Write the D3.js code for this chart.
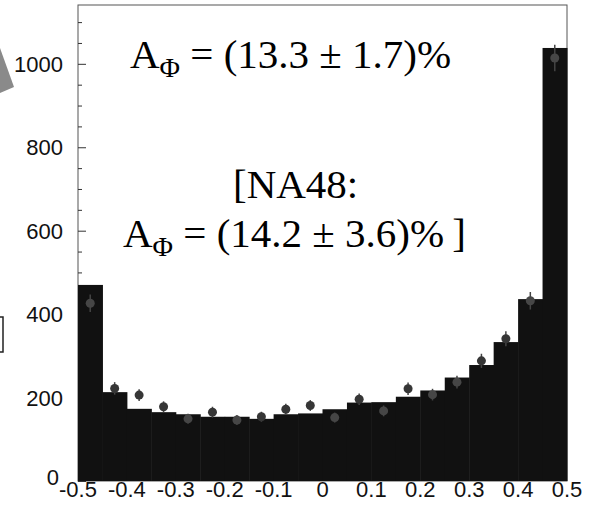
<!DOCTYPE html>
<html>
<head>
<meta charset="utf-8">
<script src="https://cdn.jsdelivr.net/npm/d3@7"></script>
<style>
  body { margin: 0; background: #fff; }
  svg { display: block; }
</style>
</head>
<body>
<script>
var svgWidth = 599;
var svgHeight = 511;

// bin lower edges (width 0.05)
var binEdges = [-0.5, -0.45, -0.4, -0.35, -0.3, -0.25, -0.2, -0.15, -0.1, -0.05,
                0, 0.05, 0.1, 0.15, 0.2, 0.25, 0.3, 0.35, 0.4, 0.45];
var binWidth = 0.05;
// histogram (Monte Carlo) counts
var mcCounts = [470, 213, 173, 165, 160, 154, 154, 149, 160, 162,
                172, 188, 189, 202, 217, 248, 278, 333, 436, 1038];
// data points and their errors
var dataCounts = [426, 222, 206, 178, 149, 165, 146, 154, 172, 181,
                  152, 196, 168, 221, 207, 237, 288, 341, 432, 1014];
var dataErrors = [21, 15, 14, 13, 12, 13, 12, 12, 13, 13,
                  12, 14, 13, 15, 14, 15, 17, 18, 21, 32];
var xTicks = [-0.5, -0.4, -0.3, -0.2, -0.1, 0, 0.1, 0.2, 0.3, 0.4, 0.5];
var xTickLabels = ["-0.5", "-0.4", "-0.3", "-0.2", "-0.1", "0", "0.1", "0.2", "0.3", "0.4", "0.5"];
var yTicks = [0, 200, 400, 600, 800, 1000];

var plot = { left: 78, right: 567, top: 5, bottom: 481 };

var svg = d3.select('body').append('svg')
  .attr('width', svgWidth)
  .attr('height', svgHeight);

var xScale = d3.scaleLinear()
  .domain([-0.5, 0.5])
  .range([plot.left, plot.right]);

var yScale = d3.scaleLinear()
  .domain([0, 1141])
  .range([plot.bottom, plot.top]);

// slide leftovers at the left edge
svg.append("path")
  .attr("d", "M0,48 L14,87 L0,93 Z")
  .attr("fill", "#8a8a8a");
svg.append("path")
  .attr("d", "M0,317 L3,317 L3,352 L0,352")
  .attr("fill", "none")
  .attr("stroke", "#222")
  .attr("stroke-width", 1.5);

// frame
svg.append("rect")
  .attr("x", plot.left)
  .attr("y", plot.top)
  .attr("width", plot.right - plot.left)
  .attr("height", plot.bottom - plot.top)
  .attr("fill", "none")
  .attr("stroke", "#555")
  .attr("stroke-width", 1);

// y axis ticks (inward)
var yAxis = d3.axisRight(yScale)
  .tickValues(d3.range(0, 1141, 50))
  .tickSize(0)
  .tickFormat("");
var yAxisG = svg.append("g")
  .attr("transform", "translate(" + plot.left + ",0)")
  .call(yAxis);
yAxisG.select(".domain").remove();
yAxisG.selectAll(".tick line")
  .attr("x2", function(d) { return d % 200 === 0 ? 8 : 4; })
  .attr("stroke", "#333");

// y tick labels
svg.append("g").selectAll("text")
  .data(yTicks)
  .enter()
  .append("text")
  .attr("x", function(d) { return d === 0 ? plot.left - 19 : plot.left - 15; })
  .attr("y", function(d) { return d === 0 ? yScale(d) + 4 : yScale(d) + 8; })
  .attr("text-anchor", "end")
  .attr("font-family", "'Liberation Sans', Arial, sans-serif")
  .attr("font-size", 22)
  .attr("fill", "#111")
  .text(function(d) { return d; });

// histogram bars
svg.append("g").selectAll("rect")
  .data(mcCounts)
  .enter()
  .append("rect")
  .attr("x", function(d, i) { return xScale(binEdges[i]); })
  .attr("y", function(d) { return yScale(d); })
  .attr("width", function(d, i) { return xScale(binEdges[i] + binWidth) - xScale(binEdges[i]) + 0.5; })
  .attr("height", function(d) { return yScale(0) - yScale(d); })
  .attr("fill", "#111");

// data points with error bars
var pts = svg.append("g").selectAll("g")
  .data(dataCounts)
  .enter()
  .append("g");
pts.append("line")
  .attr("x1", function(d, i) { return xScale(binEdges[i] + binWidth / 2); })
  .attr("x2", function(d, i) { return xScale(binEdges[i] + binWidth / 2); })
  .attr("y1", function(d, i) { return yScale(d - dataErrors[i]); })
  .attr("y2", function(d, i) { return yScale(d + dataErrors[i]); })
  .attr("stroke", "#444")
  .attr("stroke-width", 1.5);
pts.append("circle")
  .attr("cx", function(d, i) { return xScale(binEdges[i] + binWidth / 2); })
  .attr("cy", function(d) { return yScale(d); })
  .attr("r", 4.5)
  .attr("fill", function(d, i) { return d > mcCounts[i] ? "#363636" : "#464646"; });

// x tick labels
svg.append("g").selectAll("text")
  .data(xTicks)
  .enter()
  .append("text")
  .attr("x", function(d) { return xScale(d); })
  .attr("y", 497)
  .attr("text-anchor", "middle")
  .attr("font-family", "'Liberation Sans', Arial, sans-serif")
  .attr("font-size", 22)
  .attr("fill", "#111")
  .text(function(d, i) { return xTickLabels[i]; });

// annotations
function asymText(x, y, value) {
  var t = svg.append("text")
    .attr("x", x)
    .attr("y", y)
    .attr("font-family", "'Liberation Serif', 'Times New Roman', serif")
    .attr("font-size", 41)
    .attr("fill", "#000");
  t.append("tspan").text("A");
  t.append("tspan").attr("font-size", 28).attr("dy", 9).text("\u03A6");
  t.append("tspan").attr("dy", -9).text(" = " + value);
  return t;
}

asymText(130, 68, "(13.3 \u00B1 1.7)%");

svg.append("text")
  .attr("x", 233)
  .attr("y", 198)
  .attr("font-family", "'Liberation Serif', 'Times New Roman', serif")
  .attr("font-size", 41)
  .attr("fill", "#000")
  .text("[NA48:");

asymText(123, 247, "(14.2 \u00B1 3.6)%\u2009]");
</script>
</body>
</html>
